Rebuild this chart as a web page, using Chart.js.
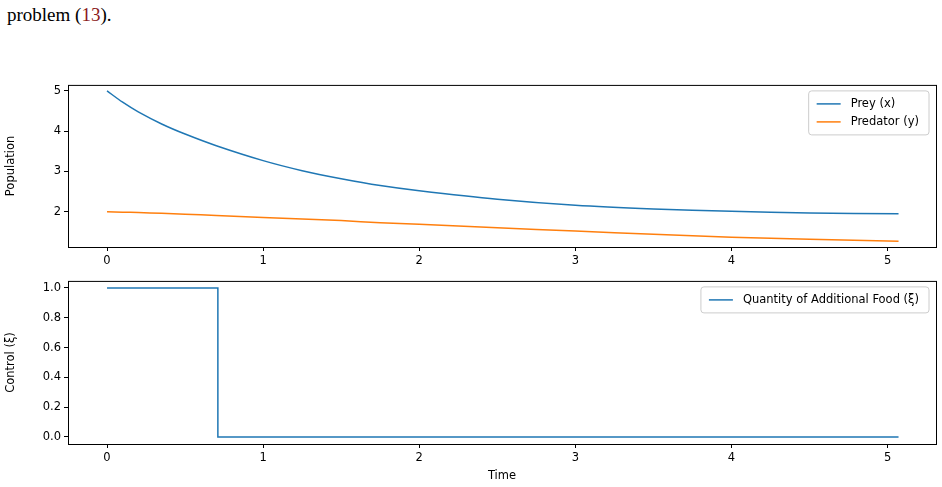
<!DOCTYPE html>
<html><head><meta charset="utf-8">
<script src="https://cdn.jsdelivr.net/npm/chart.js@4"></script>
<style>
body{margin:0;width:942px;height:487px;background:#fff;position:relative;overflow:hidden}
.txt{position:absolute;left:7px;top:4px;font-family:"Liberation Serif",serif;font-size:19px;color:#000}
.txt span{color:#8b1a1a}
.box{position:absolute;left:0;width:942px}
</style></head><body>
<div class="txt">problem (<span>13</span>).</div>
<div class="box" style="top:75px;height:194px"><canvas id="c1"></canvas></div>
<div class="box" style="top:271px;height:216px"><canvas id="c2"></canvas></div>
<script>
// time samples and values
var time = [0, 0.1, 0.2, 0.35, 0.5, 0.7, 1, 1.25, 1.5, 1.75, 2, 2.5, 3, 3.5, 4, 4.5, 5.07];
var prey = [5.0, 4.72, 4.48, 4.18, 3.93, 3.64, 3.27, 3.02, 2.82, 2.65, 2.52, 2.31, 2.16, 2.07, 2.01, 1.97, 1.95];
var predator = [2.0, 1.99, 1.98, 1.96, 1.94, 1.91, 1.86, 1.82, 1.78, 1.73, 1.69, 1.6, 1.52, 1.44, 1.37, 1.32, 1.27];
var controlTime = [0, 0.71, 0.71, 5.07];
var control = [1, 1, 0, 0];

Chart.defaults.font.family = "DejaVu Sans";
Chart.defaults.font.size = 11.5;
Chart.defaults.color = "#000";
Chart.defaults.animation = false;

function pts(xs, ys) { return xs.map(function (x, i) { return { x: x, y: ys[i] }; }); }

var frame = {
	id: "frame",
	afterDraw: function (chart) {
		var a = chart.chartArea, ctx = chart.ctx;
		ctx.save();
		ctx.strokeStyle = "#000";
		ctx.lineWidth = 1;
		ctx.strokeRect(a.left + 0.5, a.top + 0.5, a.right - a.left, a.bottom - a.top);
		// legend box in the upper right
		var items = chart.data.datasets;
		ctx.font = "11.5px DejaVu Sans";
		var w = 0;
		items.forEach(function (d) { w = Math.max(w, ctx.measureText(d.label).width); });
		var bw = w + 52, bh = items.length * 18 + 8;
		var bx = a.right - bw - 7, by = a.top + 6;
		ctx.fillStyle = "rgba(255,255,255,0.8)";
		ctx.strokeStyle = "#ccc";
		ctx.beginPath();
		ctx.roundRect(bx, by, bw, bh, 3);
		ctx.fill(); ctx.stroke();
		items.forEach(function (d, i) {
			var y = by + 13 + i * 18;
			ctx.strokeStyle = d.borderColor; ctx.lineWidth = 1.5;
			ctx.beginPath(); ctx.moveTo(bx + 8, y); ctx.lineTo(bx + 32, y); ctx.stroke();
			ctx.fillStyle = "#000"; ctx.textBaseline = "middle";
			ctx.fillText(d.label, bx + 42, y);
		});
		ctx.restore();
	}
};

function axes(yMin, yMax, yStep, yTitle, xTitle, xH, fmt) {
	return {
		x: {
			type: "linear", min: -0.25, max: 5.31,
			ticks: { stepSize: 1, includeBounds: false, padding: 3 },
			grid: { drawOnChartArea: false, tickLength: 4, color: "#000" },
			border: { display: false },
			title: { display: !!xTitle, text: xTitle, padding: { top: 2 } },
			afterFit: function (s) { s.height = xH; }
		},
		y: {
			min: yMin, max: yMax,
			ticks: { stepSize: yStep, includeBounds: false, padding: 3, callback: fmt },
			grid: { drawOnChartArea: false, tickLength: 4, color: "#000" },
			border: { display: false },
			title: { display: true, text: yTitle, padding: { bottom: 2 } },
			afterFit: function (s) { s.width = 68; }
		}
	};
}

new Chart(document.getElementById("c1"), {
	type: "line",
	data: { datasets: [
		{ label: "Prey (x)", data: pts(time, prey), borderColor: "#1f77b4", borderWidth: 1.5, pointRadius: 0, tension: 0.3 },
		{ label: "Predator (y)", data: pts(time, predator), borderColor: "#ff7f0e", borderWidth: 1.5, pointRadius: 0, tension: 0.3 }
	] },
	options: {
		responsive: true, maintainAspectRatio: false,
		layout: { padding: { right: 6, top: 0 } },
		plugins: { legend: { display: false }, tooltip: { enabled: false } },
		scales: axes(1.125, 5.15, 1, "Population", "", 22, function (v) { return v; })
	},
	plugins: [frame]
});

new Chart(document.getElementById("c2"), {
	type: "line",
	data: { datasets: [
		{ label: "Quantity of Additional Food (ξ)", data: pts(controlTime, control), borderColor: "#1f77b4", borderWidth: 1.5, pointRadius: 0 }
	] },
	options: {
		responsive: true, maintainAspectRatio: false,
		layout: { padding: { right: 6, top: 0 } },
		plugins: { legend: { display: false }, tooltip: { enabled: false } },
		scales: axes(-0.047, 1.047, 0.2, "Control (ξ)", "Time", 43, function (v) { return v.toFixed(1); })
	},
	plugins: [frame]
});
</script>
</body></html>
